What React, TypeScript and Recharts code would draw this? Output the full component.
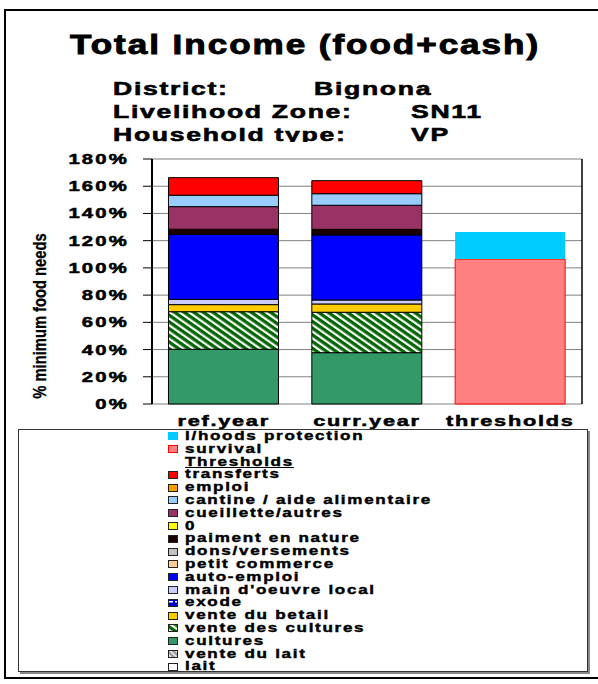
import React from 'react';
import { Bar, BarChart, CartesianGrid, XAxis, YAxis } from 'recharts';

const categories = ['ref.year', 'curr.year', 'thresholds'];
const lait = [0, 0, 0];
const venteDuLait = [0, 0, 0];
const cultures = [40.2, 37.7, 0];
const venteDesCultures = [27.6, 29.7, 0];
const venteDuBetail = [5.2, 6.1, 0];
const exode = [0, 0, 0];
const mainOeuvre = [3.9, 2.9, 0];
const autoEmploi = [47.6, 47.8, 0];
const petitCommerce = [0, 0, 0];
const dons = [0, 0, 0];
const paiement = [3.9, 4.1, 0];
const zero = [0, 0, 0];
const cueillette = [16.6, 17.7, 0];
const cantine = [8.4, 8.5, 0];
const emploi = [0, 0, 0];
const transferts = [12.9, 9.6, 0];
const survival = [0, 0, 106.5];
const lhoods = [0, 0, 19.9];
const yTicks = [0, 20, 40, 60, 80, 100, 120, 140, 160, 180];

const FONT = 'Liberation Sans, Arial, sans-serif';

// stack order, bottom to top
const series = [
  { key: 'lait', name: 'lait', values: lait, fill: '#FFFFFF', stroke: '#000' },
  { key: 'venteDuLait', name: 'vente du lait', values: venteDuLait, fill: 'url(#laitPat)', stroke: '#000' },
  { key: 'cultures', name: 'cultures', values: cultures, fill: '#339966', stroke: '#000' },
  { key: 'venteDesCultures', name: 'vente des cultures', values: venteDesCultures, fill: 'url(#vdcPat)', stroke: '#000' },
  { key: 'venteDuBetail', name: 'vente du betail', values: venteDuBetail, fill: '#FFCC00', stroke: '#000' },
  { key: 'exode', name: 'exode', values: exode, fill: 'url(#exodePat)', stroke: '#000' },
  { key: 'mainOeuvre', name: "main d'oeuvre local", values: mainOeuvre, fill: '#CCCCFF', stroke: '#000' },
  { key: 'autoEmploi', name: 'auto-emploi', values: autoEmploi, fill: '#0000FF', stroke: '#000' },
  { key: 'petitCommerce', name: 'petit commerce', values: petitCommerce, fill: '#FFCC99', stroke: '#000' },
  { key: 'dons', name: 'dons/versements', values: dons, fill: '#C0C0C0', stroke: '#000' },
  { key: 'paiement', name: 'paiment en nature', values: paiement, fill: '#1A0000', stroke: '#000' },
  { key: 'zero', name: '0', values: zero, fill: '#FFFF00', stroke: '#000' },
  { key: 'cueillette', name: 'cueillette/autres', values: cueillette, fill: '#993366', stroke: '#000' },
  { key: 'cantine', name: 'cantine / aide alimentaire', values: cantine, fill: '#99CCFF', stroke: '#000' },
  { key: 'emploi', name: 'emploi', values: emploi, fill: '#FF9900', stroke: '#000' },
  { key: 'transferts', name: 'transferts', values: transferts, fill: '#FF0000', stroke: '#000' },
  { key: 'survival', name: 'survival', values: survival, fill: '#FF8080', stroke: '#FF0000' },
  { key: 'lhoods', name: 'l/hoods protection', values: lhoods, fill: '#00CCFF', stroke: 'none' },
];

const data = categories.map((name, i) => {
  const row: any = { name };
  series.forEach((s) => {
    row[s.key] = s.values[i];
  });
  return row;
});

const legendRows: any[] = [...series].reverse();
legendRows.splice(2, 0, { key: 'header', name: 'Thresholds', header: true });

const YTick = (props: any) => {
  const { x, y, payload } = props;
  return (
    <text
      transform={`translate(${x - 12},${y}) scale(1.45,1)`}
      textAnchor="end"
      dy={5}
      fontSize={14}
      fontWeight="bold"
      fontFamily={FONT}
      fill="#000"
      stroke="#000"
      strokeWidth={0.5}
      style={{ letterSpacing: '1.5px' }}
    >
      {payload.value}%
    </text>
  );
};

const XTick = (props: any) => {
  const { x, y, payload } = props;
  return (
    <text
      transform={`translate(${x},${y + 22}) scale(1.45,1)`}
      textAnchor="middle"
      fontSize={15}
      fontWeight="bold"
      fontFamily={FONT}
      fill="#000"
      stroke="#000"
      strokeWidth={0.5}
      style={{ letterSpacing: '1.2px' }}
    >
      {payload.value}
    </text>
  );
};

const LegendIcon = ({ s }: any) => (
  <svg width={10} height={8} style={{ display: 'block', flex: 'none' }}>
    <rect
      x={0.5}
      y={0.5}
      width={9}
      height={7}
      fill={s.fill}
      stroke={s.stroke === 'none' ? s.fill : s.stroke === '#000' ? '#222' : s.stroke}
    />
  </svg>
);

const subText = (x: number, y: number, t: string) => (
  <text
    transform={`translate(${x},${y}) scale(1.4,1)`}
    fontSize={19}
    fontWeight="bold"
    fontFamily={FONT}
    fill="#000"
    stroke="#000"
    strokeWidth={0.6}
    style={{ letterSpacing: '1.2px' }}
  >
    {t}
  </text>
);

export default function App() {
  return (
    <div style={{ position: 'absolute', left: 0, top: 0, width: 598, height: 684, background: '#fff' }}>
      <BarChart
        width={598}
        height={684}
        data={data}
        margin={{ top: 159, right: 15, bottom: 239, left: 62 }}
        barCategoryGap="11.5%"
      >
        <defs>
          <pattern id="vdcPat" patternUnits="userSpaceOnUse" width={5.5} height={5.5} patternTransform="rotate(-55)">
            <rect width={5.5} height={5.5} fill="#006600" />
            <rect width={2.2} height={5.5} fill="#FFFFFF" />
          </pattern>
          <pattern id="laitPat" patternUnits="userSpaceOnUse" width={4} height={4} patternTransform="rotate(-45)">
            <rect width={4} height={4} fill="#999999" />
            <rect width={2} height={4} fill="#E0E0E0" />
          </pattern>
          <pattern id="exodePat" patternUnits="userSpaceOnUse" width={6} height={6}>
            <rect width={6} height={6} fill="#0000CC" />
            <rect x={1} y={2} width={4} height={1.5} fill="#FFFFFF" />
          </pattern>
        </defs>
        <CartesianGrid vertical={false} stroke="#808080" />
        <XAxis
          xAxisId="e"
          type="number"
          domain={[0, 3]}
          ticks={[0, 1, 2, 3]}
          allowDataOverflow
          tick={false}
          tickSize={6}
          height={1}
          axisLine={{ stroke: '#000', strokeWidth: 1.5 }}
          tickLine={{ stroke: '#000' }}
        />
        <XAxis
          dataKey="name"
          axisLine={false}
          tickLine={false}
          tickSize={0}
          tickMargin={0}
          height={40}
          interval={0}
          tick={<XTick />}
        />
        <YAxis
          domain={[0, 180]}
          ticks={yTicks}
          width={90}
          tickSize={9}
          interval={0}
          axisLine={{ stroke: '#000', strokeWidth: 2 }}
          tickLine={{ stroke: '#000' }}
          tick={<YTick />}
        />
        <YAxis
          yAxisId="r"
          orientation="right"
          domain={[0, 180]}
          allowDataOverflow
          width={1}
          tick={false}
          tickLine={false}
          axisLine={{ stroke: '#000', strokeWidth: 1.5 }}
        />
        {series.map((s) => (
          <Bar
            key={s.key}
            dataKey={s.key}
            name={s.name}
            stackId="a"
            fill={s.fill}
            stroke={s.stroke}
            strokeWidth={1}
            isAnimationActive={false}
          />
        ))}
      </BarChart>

      <svg width={598} height={684} style={{ position: 'absolute', left: 0, top: 0, pointerEvents: 'none' }}>
        <defs>
          <clipPath id="subClip">
            <rect x={0} y={0} width={598} height={142} />
          </clipPath>
        </defs>
        <rect x={5} y={10} width={600} height={668} fill="none" stroke="#000" strokeWidth={2} />
        <text
          transform="translate(305,54) scale(1.3,1)"
          textAnchor="middle"
          fontSize={27}
          fontWeight="bold"
          fontFamily={FONT}
          fill="#000"
          stroke="#000"
          strokeWidth={0.9}
          style={{ letterSpacing: '1.5px' }}
        >
          Total Income (food+cash)
        </text>
        <g clipPath="url(#subClip)">
          {subText(113, 95, 'District:')}
          {subText(314, 95, 'Bignona')}
          {subText(113, 118, 'Livelihood Zone:')}
          {subText(411, 118, 'SN11')}
          {subText(113, 141, 'Household type:')}
          {subText(411, 141, 'VP')}
        </g>
        <text
          transform="translate(46,316) rotate(-90) scale(0.82,1)"
          textAnchor="middle"
          fontSize={18}
          fontWeight="bold"
          fontFamily={FONT}
          fill="#000"
          stroke="#000"
          strokeWidth={0.3}
        >
          % minimum food needs
        </text>
      </svg>

      <div
        style={{
          position: 'absolute',
          left: 18,
          top: 429,
          width: 570,
          height: 243,
          boxSizing: 'border-box',
          border: '1px solid #333',
          boxShadow: '2px 2px 0 #888',
          background: '#fff',
          fontFamily: FONT,
        }}
      >
        {legendRows.map((s) => (
          <div
            key={s.key}
            style={{ display: 'flex', alignItems: 'center', height: 12.8, marginLeft: 149 }}
          >
            {s.header ? <div style={{ width: 10, flex: 'none' }} /> : <LegendIcon s={s} />}
            <span
              style={{
                display: 'inline-block',
                marginLeft: 7,
                fontSize: 12,
                lineHeight: '12.8px',
                fontWeight: 'bold',
                letterSpacing: '1.2px',
                whiteSpace: 'nowrap',
                transform: 'scaleX(1.42)',
                transformOrigin: 'left center',
                textDecoration: s.header ? 'underline' : 'none',
                WebkitTextStroke: '0.4px #000',
                color: '#000',
              }}
            >
              {s.name}
            </span>
          </div>
        ))}
      </div>
    </div>
  );
}
